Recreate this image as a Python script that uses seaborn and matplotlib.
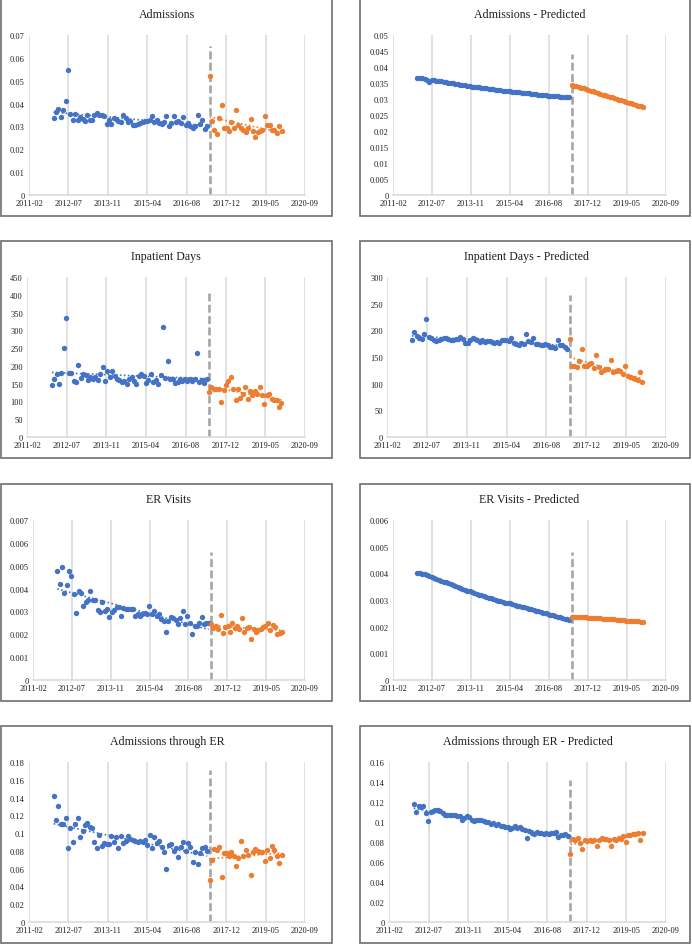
import numpy as np
import pandas as pd
import matplotlib
matplotlib.use('Agg')
import matplotlib.pyplot as plt
import matplotlib.dates as mdates
from matplotlib.patches import Rectangle
import seaborn as sns

# monthly observations: before and after the policy change (dashed line)
pre_months = pd.date_range('2012-01-01', '2017-05-01', freq='MS')
post_months = pd.date_range('2017-06-01', '2019-12-01', freq='MS')
change_date = '2017-06-01'

adm_pre = [0.0336, 0.0362, 0.0376, 0.034, 0.0372, 0.041, 0.0548, 0.0356, 0.0327, 0.0353,
           0.0327, 0.034, 0.0331, 0.0322, 0.0348, 0.0327, 0.033, 0.0348, 0.0357, 0.035,
           0.0348, 0.0345, 0.031, 0.033, 0.031, 0.0335, 0.0332, 0.0325, 0.0318, 0.035,
           0.0335, 0.032, 0.0325, 0.0305, 0.0308, 0.031, 0.0315, 0.032, 0.0322, 0.0325,
           0.033, 0.0345, 0.032, 0.033, 0.0315, 0.031, 0.032, 0.0345, 0.030, 0.0315,
           0.0345, 0.032, 0.0325, 0.0315, 0.034, 0.0305, 0.0315, 0.030, 0.0295, 0.030,
           0.035, 0.031, 0.033, 0.029, 0.030]
adm_post = [0.0522, 0.0324, 0.0286, 0.0268, 0.0338, 0.0395, 0.0293, 0.0295, 0.0279, 0.0318,
            0.0295, 0.0373, 0.0307, 0.0293, 0.0285, 0.0274, 0.0293, 0.0331, 0.028, 0.0252,
            0.0274, 0.028, 0.0286, 0.0344, 0.0307, 0.0307, 0.0283, 0.0285, 0.027, 0.0304,
            0.0279]

adm_pred_pre = [0.0367, 0.0366, 0.0365, 0.0363, 0.0359, 0.0353, 0.0360, 0.0359, 0.0357, 0.0356,
                0.0355, 0.0354, 0.0352, 0.0351, 0.0350, 0.0349, 0.0347, 0.0346, 0.0345, 0.0344,
                0.0343, 0.0342, 0.0340, 0.0339, 0.0338, 0.0337, 0.0336, 0.0335, 0.0334, 0.0333,
                0.0332, 0.0331, 0.0330, 0.0329, 0.0328, 0.0327, 0.0326, 0.0326, 0.0325, 0.0324,
                0.0323, 0.0322, 0.0321, 0.0321, 0.0320, 0.0319, 0.0318, 0.0318, 0.0317, 0.0316,
                0.0315, 0.0314, 0.0313, 0.0312, 0.0311, 0.0310, 0.0309, 0.0309, 0.0308, 0.0308,
                0.0307, 0.0307, 0.0306, 0.0306, 0.0307]
adm_pred_post = [0.0345, 0.0342, 0.0340, 0.0338, 0.0335, 0.0333, 0.0331, 0.0328, 0.0326, 0.0324,
                 0.0321, 0.0319, 0.0317, 0.0314, 0.0312, 0.0310, 0.0307, 0.0305, 0.0303, 0.0300,
                 0.0298, 0.0296, 0.0293, 0.0291, 0.0289, 0.0286, 0.0284, 0.0282, 0.0279, 0.0277,
                 0.0274]

inp_pre = [145, 164, 176, 150, 179, 249, 336, 181, 181, 158,
           155, 202, 166, 177, 174, 159, 169, 162, 169, 159,
           178, 196, 158, 186, 168, 187, 172, 162, 159, 155,
           157, 150, 162, 169, 157, 150, 171, 178, 171, 153,
           159, 178, 155, 159, 150, 174, 308, 166, 213, 164,
           162, 153, 155, 162, 157, 162, 157, 162, 157, 162,
           235, 155, 159, 153, 162]
inp_post = [126, 141, 136, 134, 136, 99, 131, 147, 157, 169,
            134, 103, 134, 111, 122, 141, 107, 130, 119, 129,
            122, 141, 119, 93, 117, 120, 107, 105, 103, 83,
            95]

inp_pred_pre = [182, 197, 189, 185, 184, 194, 222, 188, 185, 181,
                180, 181, 184, 186, 185, 183, 182, 182, 183, 184,
                187, 183, 177, 176, 182, 186, 184, 181, 178, 181,
                178, 180, 180, 178, 177, 178, 177, 181, 182, 181,
                180, 185, 177, 175, 173, 176, 175, 194, 180, 178,
                186, 175, 175, 173, 173, 175, 172, 168, 169, 167,
                181, 172, 172, 168, 165]
inp_pred_post = [183, 133, 133, 131, 142, 165, 133, 133, 136, 139,
                 130, 153, 131, 122, 125, 127, 128, 145, 122, 124,
                 126, 124, 118, 134, 114, 112, 110, 108, 106, 122,
                 103]

er_pre = [0.00478, 0.00420, 0.00496, 0.00379, 0.00416, 0.00478, 0.00455, 0.00376, 0.00292, 0.00391,
          0.00382, 0.00325, 0.00340, 0.00350, 0.00388, 0.00350, 0.00350, 0.00306, 0.00296, 0.00340,
          0.00303, 0.00310, 0.00277, 0.00296, 0.00306, 0.00318, 0.00320, 0.00282, 0.00314, 0.00310,
          0.00310, 0.00310, 0.00310, 0.00282, 0.00289, 0.00282, 0.00289, 0.00292, 0.00289, 0.00324,
          0.00289, 0.00303, 0.00282, 0.00289, 0.00267, 0.00257, 0.00209, 0.00260, 0.00277, 0.00271,
          0.00263, 0.00243, 0.00271, 0.00303, 0.00243, 0.00282, 0.00251, 0.00201, 0.00238, 0.00238,
          0.00248, 0.00274, 0.00245, 0.00248, 0.00250]
er_post = [0.00245, 0.00227, 0.00238, 0.00222, 0.00286, 0.00204, 0.00230, 0.00238, 0.00209, 0.00248,
           0.00226, 0.00238, 0.00222, 0.00271, 0.00209, 0.00227, 0.00230, 0.00178, 0.00223, 0.00209,
           0.00220, 0.00223, 0.00230, 0.00238, 0.00249, 0.00220, 0.00242, 0.00230, 0.00201, 0.00207,
           0.00209]

er_pred_pre = [0.00403, 0.00401, 0.00399, 0.00397, 0.00394, 0.00390, 0.00387, 0.00383, 0.00380, 0.00376,
               0.00373, 0.00369, 0.00366, 0.00362, 0.00359, 0.00356, 0.00352, 0.00349, 0.00345, 0.00342,
               0.00339, 0.00335, 0.00332, 0.00329, 0.00326, 0.00323, 0.00320, 0.00318, 0.00315, 0.00312,
               0.00309, 0.00306, 0.00303, 0.00300, 0.00298, 0.00295, 0.00292, 0.00290, 0.00288, 0.00287,
               0.00284, 0.00282, 0.00279, 0.00277, 0.00274, 0.00272, 0.00269, 0.00267, 0.00265, 0.00262,
               0.00260, 0.00257, 0.00255, 0.00252, 0.00250, 0.00247, 0.00245, 0.00242, 0.00240, 0.00237,
               0.00235, 0.00232, 0.00230, 0.00228, 0.00226]
er_pred_post = [0.00238, 0.00237, 0.00237, 0.00236, 0.00236, 0.00235, 0.00235, 0.00234, 0.00233, 0.00233,
                0.00232, 0.00231, 0.00231, 0.00230, 0.00229, 0.00229, 0.00228, 0.00227, 0.00227, 0.00226,
                0.00225, 0.00224, 0.00224, 0.00223, 0.00222, 0.00222, 0.00221, 0.00220, 0.00220, 0.00219,
                0.00218]

aer_pre = [0.1421, 0.1151, 0.1309, 0.1106, 0.1106, 0.1166, 0.0829, 0.1054, 0.0896, 0.1106,
           0.1166, 0.0953, 0.1024, 0.1091, 0.1110, 0.1065, 0.1054, 0.0896, 0.0829, 0.0983,
           0.0851, 0.0889, 0.0878, 0.0881, 0.0971, 0.0904, 0.0953, 0.0836, 0.0971, 0.0889,
           0.0915, 0.0971, 0.0934, 0.0926, 0.0915, 0.0904, 0.0915, 0.0896, 0.0923, 0.0866,
           0.0983, 0.0829, 0.0953, 0.0885, 0.0915, 0.0840, 0.0784, 0.0596, 0.0866, 0.0874,
           0.0803, 0.0829, 0.0728, 0.0840, 0.0896, 0.0803, 0.0889, 0.0840, 0.0679, 0.0784,
           0.0656, 0.0776, 0.0829, 0.0840, 0.0803]
aer_post = [0.0472, 0.0698, 0.0821, 0.0814, 0.0840, 0.0502, 0.0773, 0.0776, 0.0746, 0.0784,
            0.0746, 0.0626, 0.0720, 0.0908, 0.0739, 0.0814, 0.0754, 0.0529, 0.0784, 0.0821,
            0.0795, 0.0791, 0.0784, 0.0690, 0.0810, 0.0716, 0.0859, 0.0810, 0.0739, 0.0664,
            0.0754]

aer_pred_pre = [0.1177, 0.1100, 0.1157, 0.1150, 0.1157, 0.1090, 0.1010, 0.1100, 0.1110, 0.1117,
                0.1117, 0.1107, 0.1090, 0.1067, 0.1067, 0.1073, 0.1070, 0.1070, 0.1060, 0.1063,
                0.1023, 0.1040, 0.1057, 0.1050, 0.1017, 0.1010, 0.1017, 0.1023, 0.1020, 0.1010,
                0.1003, 0.0997, 0.0977, 0.0990, 0.0967, 0.0983, 0.0963, 0.0957, 0.0950, 0.0950,
                0.0933, 0.0943, 0.0957, 0.0937, 0.0950, 0.0933, 0.0923, 0.0840, 0.0910, 0.0890,
                0.0877, 0.0903, 0.0890, 0.0890, 0.0883, 0.0890, 0.0883, 0.0890, 0.0890, 0.0900,
                0.0850, 0.0867, 0.0873, 0.0883, 0.0863]
aer_pred_post = [0.0683, 0.0833, 0.0817, 0.0843, 0.0793, 0.0727, 0.0817, 0.0810, 0.0817, 0.0810,
                 0.0823, 0.0760, 0.0823, 0.0843, 0.0833, 0.0830, 0.0823, 0.0757, 0.0830, 0.0823,
                 0.0840, 0.0833, 0.0857, 0.0800, 0.0873, 0.0873, 0.0883, 0.0877, 0.0890, 0.0823,
                 0.0893]

BLUE = '#4472C4'
ORANGE = '#ED7D31'
W, H = 692, 945

# (title, pre, post, ymax, ystep, trendline, dash top, column, row, axes left px)
panels = [
    ('Admissions', adm_pre, adm_post, 0.07, 0.01, True, 0.93, 0, 0, 29),
    ('Admissions - Predicted', adm_pred_pre, adm_pred_post, 0.05, 0.005, False, 0.88, 1, 0, 393),
    ('Inpatient Days', inp_pre, inp_post, 450, 50, True, 0.90, 0, 1, 27),
    ('Inpatient Days - Predicted', inp_pred_pre, inp_pred_post, 300, 50, True, 0.89, 1, 1, 387),
    ('ER Visits', er_pre, er_post, 0.007, 0.001, True, 0.80, 0, 2, 33),
    ('ER Visits - Predicted', er_pred_pre, er_pred_post, 0.006, 0.001, False, 0.80, 1, 2, 393),
    ('Admissions through ER', aer_pre, aer_post, 0.18, 0.02, True, 0.95, 0, 3, 29),
    ('Admissions through ER - Predicted', aer_pred_pre, aer_pred_post, 0.16, 0.02, True, 0.89, 1, 3, 389),
]

sns.set_style('white')
plt.rcParams['font.family'] = ['Liberation Serif', 'DejaVu Serif']

fig = plt.figure(figsize=(W / 100, H / 100), dpi=100)

box_tops = [0, 242, 485, 727]
box_x = [(1, 332), (360, 690)]
axes_right = [305, 666]

x_start = pd.Timestamp('2011-02-22')
x_ticks = [mdates.date2num(x_start + pd.Timedelta(days=500 * k)) for k in range(8)]
x_pre = mdates.date2num(pre_months)
x_post = mdates.date2num(post_months)

for title, pre, post, ymax, ystep, trend, dash_top, col, row, left in panels:
    top = box_tops[row]
    x0, x1 = box_x[col]
    fig.add_artist(Rectangle((x0 / W, 1 - (top + 217) / H), (x1 - x0) / W, 217 / H,
                             transform=fig.transFigure, fill=False,
                             edgecolor='#6e6e6e', linewidth=1.2))

    ax = fig.add_axes([left / W, 1 - (top + 196) / H,
                       (axes_right[col] - left) / W, 160 / H])

    for xs, ys, c in [(x_pre, pre, BLUE), (x_post, post, ORANGE)]:
        sns.regplot(x=np.asarray(xs), y=np.asarray(ys, dtype=float), ax=ax, ci=None,
                    fit_reg=trend, color=c,
                    scatter_kws=dict(s=15, alpha=1, linewidths=0, zorder=3),
                    line_kws=dict(ls=(0, (1, 1.4)), lw=1.2, zorder=4))

    ax.axvline(mdates.date2num(pd.Timestamp(change_date)), ymin=0, ymax=dash_top,
               color='#A6A6A6', lw=1.9, dashes=(3, 1.3), zorder=2)

    ax.set_xlim(x_ticks[0], x_ticks[-1])
    ax.set_xticks(x_ticks)
    ax.xaxis.set_major_formatter(mdates.DateFormatter('%Y-%m'))
    yt = np.arange(0, ymax + ystep / 2, ystep)
    ax.set_ylim(0, ymax)
    ax.set_yticks(yt)
    ax.set_yticklabels([f'{round(v, 4):g}' for v in yt])
    ax.set_xlabel('')
    ax.set_ylabel('')

    ax.grid(axis='x', color='#D9D9D9', lw=1.1, zorder=0)
    ax.grid(axis='y', visible=False)
    ax.set_axisbelow(True)
    for side in ['top', 'right', 'left']:
        ax.spines[side].set_visible(False)
    ax.spines['bottom'].set_color('#D9D9D9')
    ax.spines['bottom'].set_linewidth(1.1)
    ax.tick_params(axis='both', length=0, labelsize=6, colors='#1e1e1e', pad=3)

    ax.text(0.5, 1 + 21 / 160, title, transform=ax.transAxes, ha='center', va='center',
            fontsize=8.6, color='#1e1e1e')

fig.savefig('out.png', dpi=100)
